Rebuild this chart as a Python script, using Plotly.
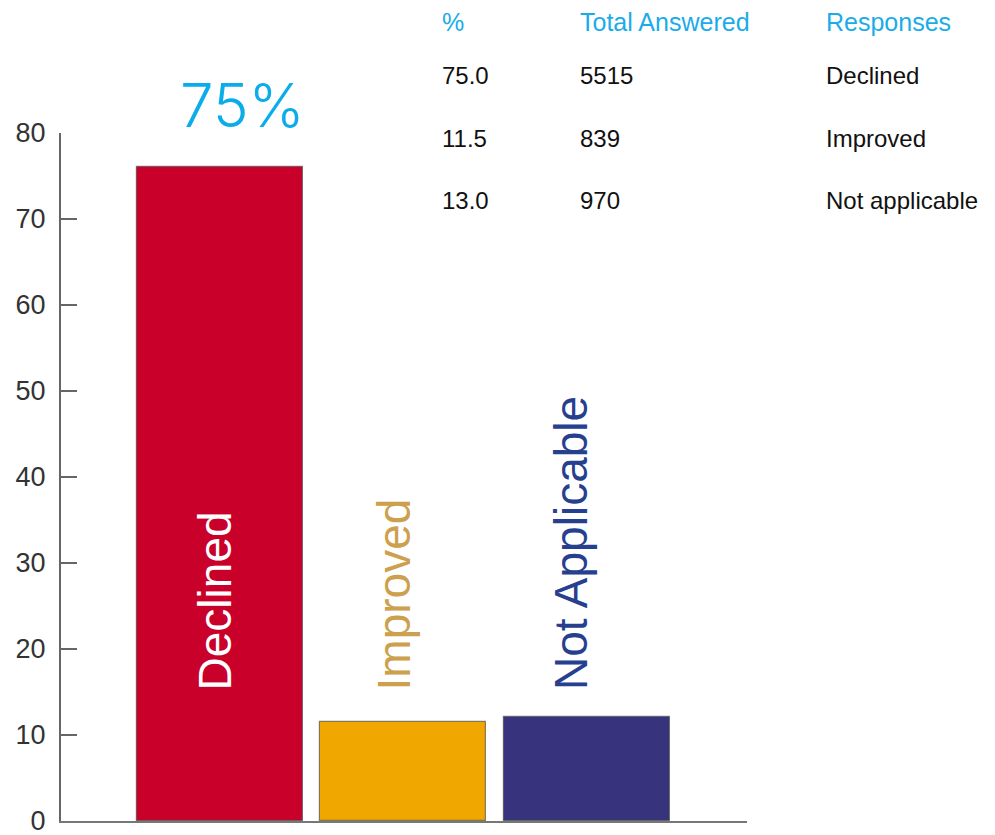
import plotly.graph_objects as go

# ---- data ----
categories = ["Declined", "Improved", "Not Applicable"]
bar_values = [76.0, 11.5, 12.1]
bar_colors = ["#C8002A", "#F0A800", "#37337D"]
label_colors = ["#FFFFFF", "#CDA04D", "#26408F"]

table_headers = ["%", "Total Answered", "Responses"]
table_pct = ["75.0", "11.5", "13.0"]
table_total = ["5515", "839", "970"]
table_resp = ["Declined", "Improved", "Not applicable"]

highlight_text = "75%"
y_ticks = [0, 10, 20, 30, 40, 50, 60, 70, 80]

# ---- layout geometry (screen coords; page body has an 8px margin) ----
W, H = 995, 835
OFF = 8
X0, X1, Y0, Y1 = 61, 747, 133, 821   # plot area on screen
L, T = X0 - OFF, Y0 - OFF
R, B = W - (X1 - OFF), H - (Y1 - OFF)
PW, PH = X1 - X0, Y1 - Y0

def px(x):
    return (x - X0) / PW

def py(y):
    return (Y1 - y) / PH

x_pos = list(range(len(categories)))
x_range = [-0.866, 2.872]

fig = go.Figure()
fig.add_trace(go.Bar(
    x=x_pos, y=bar_values, width=0.905,
    marker=dict(color=bar_colors, line=dict(color="rgba(70,70,70,0.65)", width=1.2)),
    hoverinfo="skip", showlegend=False, cliponaxis=False,
))

annotations = []
# vertical category labels
xshifts = [-5, -9, -16]
for i, (c, col) in enumerate(zip(categories, label_colors)):
    annotations.append(dict(
        x=x_pos[i], y=py(692), xref="x", yref="paper", text=c, textangle=-90,
        showarrow=False, xanchor="center", yanchor="bottom", xshift=xshifts[i],
        font=dict(family="Liberation Sans, Arial", size=46, color=col),
    ))

# highlight value
annotations.append(dict(
    x=px(242), y=py(105), xref="paper", yref="paper", text=highlight_text,
    showarrow=False, xanchor="center", yanchor="middle",
    font=dict(family="Inter, Liberation Sans", size=60, color="#0AADEA", weight=300),
))

# table
col_x = [440, 578, 824]
row_y = [22, 75, 138, 201]
tfont = "Liberation Sans, Arial"
for j, htxt in enumerate(table_headers):
    annotations.append(dict(
        x=px(col_x[j]), y=py(row_y[0]), xref="paper", yref="paper", text=htxt,
        showarrow=False, xanchor="left", yanchor="middle",
        font=dict(family=tfont, size=25, color="#1AACE8"),
    ))
for r in range(len(table_pct)):
    for j, val in enumerate([table_pct[r], table_total[r], table_resp[r]]):
        annotations.append(dict(
            x=px(col_x[j]), y=py(row_y[r + 1]), xref="paper", yref="paper", text=val,
            showarrow=False, xanchor="left", yanchor="middle",
            font=dict(family=tfont, size=24, color="#111111"),
        ))

fig.update_layout(
    width=W, height=H,
    margin=dict(l=L, r=R, t=T, b=B, pad=0, autoexpand=False),
    paper_bgcolor="white", plot_bgcolor="white",
    annotations=annotations,
    bargap=0,
)
fig.update_xaxes(
    range=x_range, showline=True, linecolor="#777777", linewidth=2,
    showgrid=False, zeroline=False, automargin=False,
    tickvals=[x_range[1] - 0.005], ticktext=[""], ticks="inside", ticklen=18,
    tickwidth=2, tickcolor="#777777",
)
fig.update_yaxes(
    range=[0, 80], tickvals=y_ticks, showline=True, linecolor="#666666", linewidth=2,
    showgrid=False, zeroline=False, ticks="inside", ticklen=16, tickwidth=2,
    automargin=False, ticklabeloverflow="allow",
    tickcolor="#666666", tickfont=dict(family="Liberation Sans, Arial", size=27, color="#333333"),
    ticklabelstandoff=8,
)

fig.write_html("out.html")
